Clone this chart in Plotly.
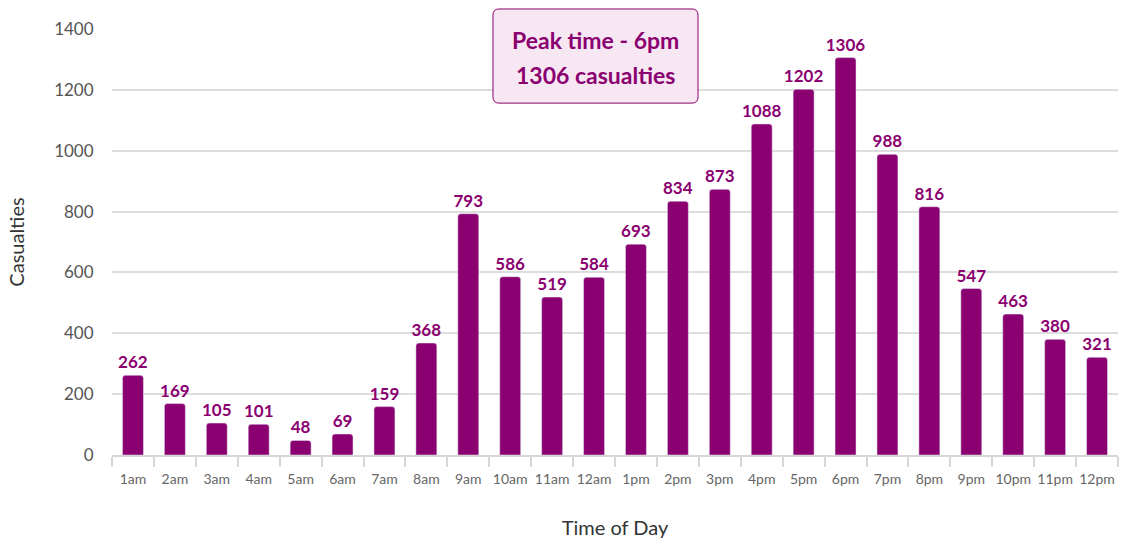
import plotly.graph_objects as go

hours = ['1am', '2am', '3am', '4am', '5am', '6am', '7am', '8am', '9am', '10am', '11am', '12am',
         '1pm', '2pm', '3pm', '4pm', '5pm', '6pm', '7pm', '8pm', '9pm', '10pm', '11pm', '12pm']
casualties = [262, 169, 105, 101, 48, 69, 159, 368, 793, 586, 519, 584,
              693, 834, 873, 1088, 1202, 1306, 988, 816, 547, 463, 380, 321]
y_ticks = [0, 200, 400, 600, 800, 1000, 1200, 1400]
peak_lines = ['Peak time - 6pm', '1306 casualties']

purple = '#8B0070'
font_family = 'Source Sans Pro, Lato, sans-serif'

fig = go.Figure(go.Bar(
    x=hours, y=casualties,
    marker=dict(color=purple, cornerradius=3),
    text=casualties, textposition='outside', cliponaxis=False, constraintext='none',
    textfont=dict(color=purple, size=17, family=font_family, weight='bold'),
    hovertemplate='%{x}: %{y}<extra></extra>'
))

# rounded box for the peak annotation (paper coords)
x0, x1, y0, y1 = 0.3787, 0.5825, 0.826, 1.047
rx, ry = 6 / 1006, 6 / 426
path = (f'M {x0+rx},{y0} L {x1-rx},{y0} Q {x1},{y0} {x1},{y0+ry} '
        f'L {x1},{y1-ry} Q {x1},{y1} {x1-rx},{y1} '
        f'L {x0+rx},{y1} Q {x0},{y1} {x0},{y1-ry} '
        f'L {x0},{y0+ry} Q {x0},{y0} {x0+rx},{y0} Z')
fig.add_shape(type='path', path=path, xref='paper', yref='paper',
              fillcolor='#F6E7F2', line=dict(color=purple, width=1), layer='above')
for line, ypos in zip(peak_lines, [0.974, 0.892]):
    fig.add_annotation(x=(x0 + x1) / 2, y=ypos, xref='paper', yref='paper',
                       xanchor='center', yanchor='middle',
                       text=f'<b>{line}</b>', showarrow=False,
                       font=dict(color=purple, size=23, family=font_family))

fig.update_layout(
    width=1126, height=541,
    margin=dict(l=112, r=8, t=29, b=86),
    plot_bgcolor='white', paper_bgcolor='white',
    showlegend=False, bargap=0.5,
    font=dict(family=font_family, color='#555555'),
)
fig.update_yaxes(range=[0, 1400], tickvals=y_ticks, showgrid=True, gridcolor='#DDDDDD', gridwidth=1.5,
                 zeroline=False, ticks='outside', ticklen=14, tickcolor='rgba(0,0,0,0)',
                 tickfont=dict(size=17, color='#555555'), automargin=False,
                 title=dict(text='Casualties', font=dict(size=20, color='#333333'), standoff=24))
fig.update_xaxes(showline=True, linecolor='#D6D6D6', linewidth=2, ticks='outside', tickson='boundaries',
                 ticklen=10, tickcolor='#D6D6D6', tickwidth=2, tickangle=0, ticklabelstandoff=10,
                 tickfont=dict(size=14, color='#666666'), automargin=False,
                 title=dict(text='Time of Day', font=dict(size=20, color='#333333'), standoff=35))

fig.write_html('out.html', config={'displayModeBar': False},
               post_script="document.body.style.margin='0';")
